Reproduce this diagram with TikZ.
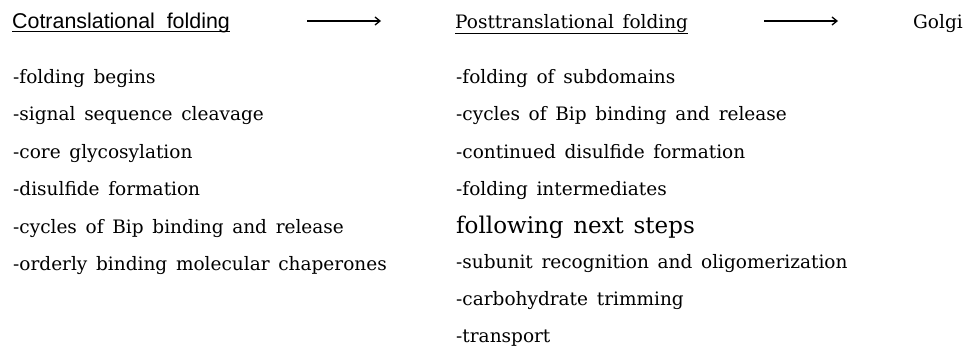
\documentclass[tikz,border=0pt]{standalone}
\usepackage{fontspec}
\setmainfont{DejaVu Serif}
\newfontfamily\headsans{Liberation Sans}
\usetikzlibrary{arrows.meta}
\newcommand{\bodyfont}{\fontsize{18.5}{22}\selectfont\spaceskip=0.47em plus 0.1em\relax}
\newcommand{\bigfont}{\fontsize{23}{26}\selectfont\spaceskip=0.42em plus 0.1em\relax}
\begin{document}
\begin{tikzpicture}[x=1pt,y=-1pt,
  txt/.style={anchor=base west, inner sep=0pt, font=\bodyfont},
  big/.style={anchor=base west, inner sep=0pt, font=\bigfont},
  sanshead/.style={anchor=base west, inner sep=0pt, font=\headsans\fontsize{21.4}{24}\selectfont},
  uline/.style={line width=1pt},
  arr/.style={line width=1.1pt, -{Straight Barb[length=5pt,width=8pt,line width=1.3pt]}}]
\useasboundingbox[fill=white] (0,0) rectangle (965,351);
% headings
\node[sanshead] (cot) at (12,28) {Cotranslational\ \ folding};
\node[txt] (post) at (455,28) {Posttranslational folding};
\node[txt] (golgi) at (913,28) {Golgi};
\draw[uline] ([yshift=-3pt]cot.base west) -- ([yshift=-3pt]cot.base east);
\draw[uline] ([yshift=-5pt]post.base west) -- ([yshift=-5pt]post.base east);
\coordinate (a1s) at (307,21);
\coordinate (a1e) at (381,21);
\coordinate (a2s) at (764,21);
\coordinate (a2e) at (838,21);
\draw[arr] (a1s) -- (a1e);
\draw[arr] (a2s) -- (a2e);
% left column
\node[txt] (l1) at (13,83) {-folding begins};
\node[txt] (l2) at (13,120) {-signal sequence cleavage};
\node[txt] (l3) at (13,158) {-core glycosylation};
\node[txt] (l4) at (13,195) {-disulfide formation};
\node[txt] (l5) at (13,233) {-cycles of Bip binding and release};
\node[txt] (l6) at (13,270) {-orderly binding molecular chaperones};
% right column
\node[txt] (r1) at (456,83) {-folding of subdomains};
\node[txt] (r2) at (456,120) {-cycles of Bip binding and release};
\node[txt] (r3) at (456,158) {-continued disulfide formation};
\node[txt] (r4) at (456,195) {-folding intermediates};
\node[big] (r5) at (456,233) {following next steps};
\node[txt] (r6) at (456,268) {-subunit recognition and oligomerization};
\node[txt] (r7) at (456,305) {-carbohydrate trimming};
\node[txt] (r8) at (456,342) {-transport};
\end{tikzpicture}
\end{document}
